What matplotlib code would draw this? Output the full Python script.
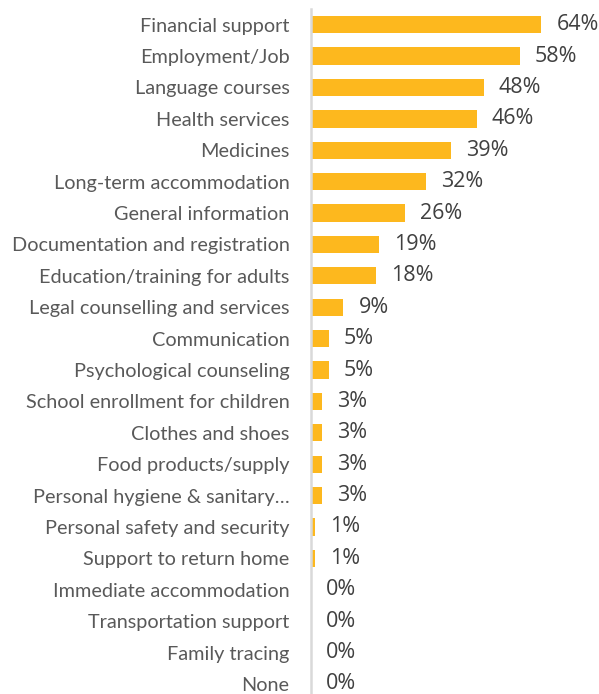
import matplotlib
matplotlib.use("Agg")
import matplotlib.pyplot as plt

categories = [
    "Financial support", "Employment/Job", "Language courses", "Health services",
    "Medicines", "Long-term accommodation", "General information",
    "Documentation and registration", "Education/training for adults",
    "Legal counselling and services", "Communication", "Psychological counseling",
    "School enrollment for children", "Clothes and shoes", "Food products/supply",
    "Personal hygiene & sanitary\u2026", "Personal safety and security",
    "Support to return home", "Immediate accommodation", "Transportation support",
    "Family tracing", "None",
]
values = [64, 58, 48, 46, 39, 32, 26, 19, 18, 9, 5, 5, 3, 3, 3, 3, 1, 1, 0, 0, 0, 0]

bar_color = "#FDB81E"

fig = plt.figure(figsize=(5.99, 6.94), dpi=100)
ax = fig.add_axes([311 / 599, 0, 288 / 599, 685 / 694])

y = list(range(len(categories)))
ax.barh(y, values, height=0.55, color=bar_color)

ax.set_xlim(0, 80)
ax.set_ylim(21.32, -0.5)

for s in ["top", "right", "bottom"]:
    ax.spines[s].set_visible(False)
ax.spines["left"].set_color("#D9D9D9")
ax.spines["left"].set_linewidth(1.8)

ax.set_xticks([])
ax.set_yticks(y)
ax.set_yticklabels(categories, fontsize=14.3, color="#595959", family="Lato")
ax.tick_params(axis="y", length=0, pad=15.5)

for yi, v in zip(y, values):
    ax.text(v + 4.2, yi, f"{v}%", va="center", ha="left",
            fontsize=15.5, color="#404040", family="Open Sans")

fig.savefig("out.png", dpi=100)
